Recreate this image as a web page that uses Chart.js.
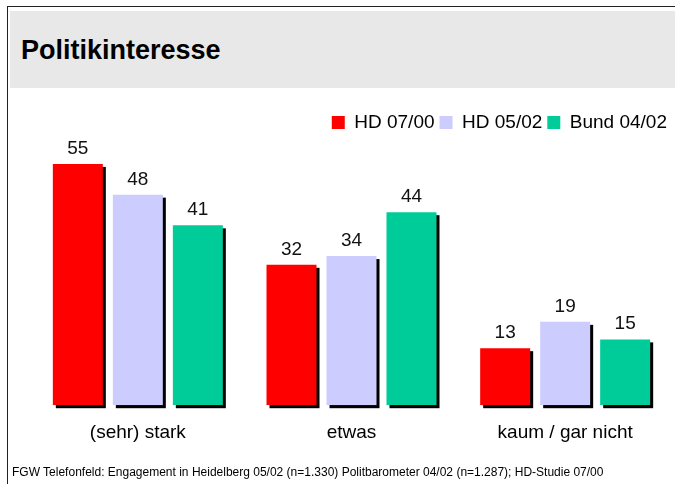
<!DOCTYPE html>
<html>
<head>
<meta charset="utf-8">
<script src="https://cdn.jsdelivr.net/npm/chart.js@4.4.1/dist/chart.umd.min.js"></script>
<style>
  body { margin: 0; background: #fff; font-family: "Liberation Sans", Arial, sans-serif; }
  #seite { position: relative; width: 675px; height: 484px; overflow: hidden; }
  #rahmenOben { position: absolute; left: 7px; top: 6px; width: 668px; height: 1px; background: #222; }
  #rahmenLinks { position: absolute; left: 7px; top: 6px; width: 1px; height: 478px; background: #222; }
  #band { position: absolute; left: 10px; top: 11px; width: 665px; height: 77px; background: #e8e8e8; }
  #titel { position: absolute; left: 21px; top: 35px; font-size: 27px; font-weight: bold; color: #000; line-height: 30px; }
  #quelle { position: absolute; left: 12px; top: 464px; font-size: 12px; color: #000; line-height: 16px; white-space: nowrap; }
  canvas { position: absolute; left: 0; top: 0; }
</style>
</head>
<body>
<div id="seite">
  <div id="band"></div>
  <div id="rahmenOben"></div>
  <div id="rahmenLinks"></div>
  <div id="titel">Politikinteresse</div>
  <canvas id="grafik" width="675" height="484"></canvas>
  <div id="quelle">FGW Telefonfeld: Engagement in Heidelberg 05/02 (n=1.330) Politbarometer 04/02 (n=1.287); HD-Studie 07/00</div>
</div>
<script>
// Daten
const kategorien = ['(sehr) stark', 'etwas', 'kaum / gar nicht'];
const serien = ['HD 07/00', 'HD 05/02', 'Bund 04/02'];
const hd0700 = [55, 32, 13];
const hd0502 = [48, 34, 19];
const bund0402 = [41, 44, 15];
const farben = ['#ff0000', '#ccccff', '#00cc99'];

const schrift = '"Liberation Sans", Arial, sans-serif';

// Schatten hinter den Balken
const schattenPlugin = {
    id: 'schatten',
    beforeDatasetsDraw(chart) {
        const ctx = chart.ctx;
        ctx.save();
        ctx.fillStyle = '#000';
        chart.data.datasets.forEach((ds, i) => {
            chart.getDatasetMeta(i).data.forEach(bar => {
                const p = bar.getProps(['x', 'y', 'base', 'width'], true);
                ctx.fillRect(p.x - p.width / 2 + 3, p.y + 3, p.width, p.base - p.y);
            });
        });
        ctx.restore();
    }
};

// Werte über den Balken
const wertePlugin = {
    id: 'werte',
    afterDatasetsDraw(chart) {
        const ctx = chart.ctx;
        ctx.save();
        ctx.font = '19px ' + schrift;
        ctx.fillStyle = '#111';
        ctx.textAlign = 'center';
        ctx.textBaseline = 'alphabetic';
        chart.data.datasets.forEach((ds, i) => {
            chart.getDatasetMeta(i).data.forEach((bar, j) => {
                const p = bar.getProps(['x', 'y'], true);
                ctx.fillText(ds.data[j], p.x, p.y - 10);
            });
        });
        ctx.restore();
    }
};

const daten = [hd0700, hd0502, bund0402];

new Chart(document.getElementById('grafik'), {
    type: 'bar',
    data: {
        labels: kategorien,
        datasets: serien.map((name, i) => ({
            label: name,
            data: daten[i],
            backgroundColor: farben[i],
            borderWidth: 0,
            categoryPercentage: 0.8424,
            barPercentage: 0.8333
        }))
    },
    options: {
        responsive: false,
        animation: false,
        devicePixelRatio: 1,
        layout: { padding: { left: 31, right: 3, top: 108, bottom: 24 } },
        plugins: {
            legend: {
                position: 'top',
                align: 'end',
                labels: {
                    boxWidth: 13,
                    boxHeight: 13,
                    padding: 5,
                    color: '#000',
                    font: { family: schrift, size: 19 }
                }
            },
            tooltip: { enabled: false }
        },
        scales: {
            x: {
                grid: { display: false, drawTicks: false },
                border: { display: false },
                ticks: { color: '#000', padding: 16, font: { family: schrift, size: 19 } }
            },
            y: { display: false, min: 0, max: 60 }
        }
    },
    plugins: [schattenPlugin, wertePlugin]
});
</script>
</body>
</html>
